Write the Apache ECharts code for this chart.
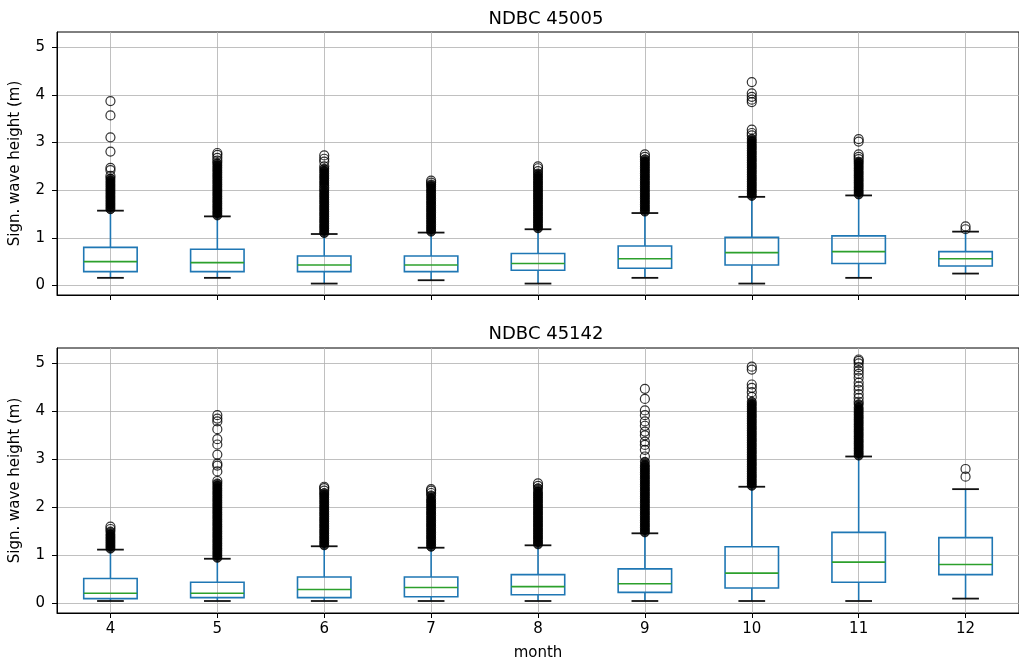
<!DOCTYPE html>
<html>
<head>
<meta charset="utf-8">
<script src="https://cdn.jsdelivr.net/npm/echarts@6/dist/echarts.min.js"></script>
<style>
  html, body { margin: 0; padding: 0; background: #fff; }
  #chart { width: 1019px; height: 665px; }
</style>
</head>
<body>
<div id="chart"></div>
<script>
const months = ['4', '5', '6', '7', '8', '9', '10', '11', '12']
const yTicks = [0, 1, 2, 3, 4, 5]

// [lower whisker, q1, median, q3, upper whisker] per month
const box45005 = [
  [0.16, 0.29, 0.50, 0.80, 1.57],
  [0.16, 0.29, 0.48, 0.76, 1.45],
  [0.04, 0.29, 0.43, 0.62, 1.08],
  [0.11, 0.29, 0.43, 0.62, 1.11],
  [0.04, 0.32, 0.46, 0.67, 1.18],
  [0.16, 0.36, 0.56, 0.83, 1.52],
  [0.04, 0.43, 0.69, 1.01, 1.86],
  [0.16, 0.46, 0.71, 1.04, 1.89],
  [0.25, 0.41, 0.56, 0.71, 1.13]
]
const box45142 = [
  [0.05, 0.10, 0.21, 0.52, 1.12],
  [0.05, 0.12, 0.21, 0.44, 0.93],
  [0.05, 0.12, 0.29, 0.55, 1.19],
  [0.05, 0.14, 0.33, 0.55, 1.16],
  [0.05, 0.18, 0.35, 0.60, 1.21],
  [0.05, 0.23, 0.41, 0.72, 1.46],
  [0.05, 0.32, 0.63, 1.18, 2.43],
  [0.05, 0.44, 0.86, 1.48, 3.06],
  [0.10, 0.60, 0.81, 1.37, 2.38]
]

// outliers packed so tightly they merge into a black column
const dense45005 = [
  [1.60, 1.65, 1.70, 1.75, 1.80, 1.85, 1.90, 1.95, 2.00, 2.05, 2.10, 2.15, 2.20, 2.25],
  [1.47, 1.52, 1.57, 1.62, 1.67, 1.72, 1.77, 1.82, 1.87, 1.92, 1.97, 2.02, 2.07, 2.12, 2.17, 2.22, 2.27, 2.32, 2.37, 2.42, 2.47, 2.52, 2.57],
  [1.10, 1.15, 1.20, 1.25, 1.30, 1.35, 1.40, 1.45, 1.50, 1.55, 1.60, 1.65, 1.70, 1.75, 1.80, 1.85, 1.90, 1.95, 2.00, 2.10, 2.15, 2.20, 2.25, 2.30, 2.35, 2.40, 2.45],
  [1.13, 1.18, 1.23, 1.28, 1.33, 1.38, 1.43, 1.48, 1.53, 1.58, 1.63, 1.68, 1.73, 1.78, 1.83, 1.88, 1.93, 1.98, 2.03, 2.08, 2.12],
  [1.20, 1.25, 1.30, 1.35, 1.40, 1.45, 1.50, 1.55, 1.60, 1.65, 1.70, 1.75, 1.80, 1.85, 1.90, 1.95, 2.00, 2.05, 2.10, 2.15, 2.20, 2.25, 2.30, 2.35],
  [1.55, 1.60, 1.65, 1.70, 1.75, 1.80, 1.85, 1.90, 1.95, 2.00, 2.05, 2.10, 2.15, 2.20, 2.25, 2.30, 2.35, 2.40, 2.45, 2.50, 2.55, 2.60, 2.65],
  [1.88, 1.93, 1.98, 2.03, 2.08, 2.13, 2.18, 2.23, 2.28, 2.33, 2.38, 2.43, 2.48, 2.53, 2.58, 2.63, 2.68, 2.73, 2.78, 2.83, 2.88, 2.93, 2.98, 3.03, 3.08],
  [1.91, 1.96, 2.01, 2.06, 2.11, 2.16, 2.21, 2.26, 2.31, 2.36, 2.41, 2.46, 2.51, 2.56, 2.60],
  []
]
const sparse45005 = [
  [2.30, 2.42, 2.47, 2.81, 3.11, 3.57, 3.87],
  [2.62, 2.68, 2.74, 2.78],
  [2.05, 2.50, 2.60, 2.66, 2.73],
  [2.16, 2.20],
  [2.40, 2.46, 2.50],
  [2.70, 2.75],
  [3.15, 3.20, 3.27, 3.85, 3.90, 3.96, 4.03, 4.27],
  [2.65, 2.70, 2.75, 3.02, 3.07],
  [1.18, 1.24]
]

const dense45142 = [
  [1.14, 1.19, 1.24, 1.29, 1.34, 1.39, 1.44, 1.50],
  [0.95, 1.00, 1.05, 1.10, 1.15, 1.20, 1.25, 1.30, 1.35, 1.40, 1.45, 1.50, 1.55, 1.60, 1.65, 1.70, 1.75, 1.80, 1.85, 1.90, 1.95, 2.00, 2.05, 2.10, 2.15, 2.20, 2.25, 2.30, 2.35, 2.40, 2.45, 2.50],
  [1.21, 1.26, 1.31, 1.36, 1.41, 1.46, 1.51, 1.56, 1.61, 1.66, 1.71, 1.76, 1.81, 1.86, 1.91, 1.96, 2.01, 2.06, 2.11, 2.16, 2.21, 2.26, 2.30],
  [1.18, 1.23, 1.28, 1.33, 1.38, 1.43, 1.48, 1.53, 1.58, 1.63, 1.68, 1.73, 1.78, 1.83, 1.88, 1.93, 1.98, 2.03, 2.08, 2.13, 2.18, 2.25],
  [1.23, 1.28, 1.33, 1.38, 1.43, 1.48, 1.53, 1.58, 1.63, 1.68, 1.73, 1.78, 1.83, 1.88, 1.93, 1.98, 2.03, 2.08, 2.13, 2.18, 2.23, 2.28, 2.33, 2.40],
  [1.48, 1.53, 1.58, 1.63, 1.68, 1.73, 1.78, 1.83, 1.88, 1.93, 1.98, 2.03, 2.08, 2.13, 2.18, 2.23, 2.28, 2.33, 2.38, 2.43, 2.48, 2.53, 2.58, 2.63, 2.68, 2.73, 2.78, 2.83, 2.88, 2.95],
  [2.45, 2.50, 2.55, 2.60, 2.65, 2.70, 2.75, 2.80, 2.85, 2.90, 2.95, 3.00, 3.05, 3.10, 3.15, 3.20, 3.25, 3.30, 3.35, 3.40, 3.45, 3.50, 3.55, 3.60, 3.65, 3.70, 3.75, 3.80, 3.85, 3.90, 3.95, 4.00, 4.05, 4.10, 4.15, 4.20],
  [3.08, 3.13, 3.18, 3.23, 3.28, 3.33, 3.38, 3.43, 3.48, 3.53, 3.58, 3.63, 3.68, 3.73, 3.78, 3.83, 3.88, 3.93, 3.98, 4.03, 4.08, 4.15],
  []
]
const sparse45142 = [
  [1.55, 1.60],
  [2.55, 2.75, 2.87, 2.91, 3.10, 3.31, 3.42, 3.63, 3.79, 3.85, 3.92],
  [2.35, 2.40, 2.43],
  [2.30, 2.35, 2.38],
  [2.45, 2.50],
  [3.06, 3.20, 3.30, 3.37, 3.50, 3.58, 3.70, 3.79, 3.92, 4.02, 4.26, 4.47],
  [4.30, 4.40, 4.49, 4.56, 4.87, 4.93],
  [4.20, 4.28, 4.36, 4.45, 4.52, 4.60, 4.70, 4.78, 4.85, 4.92, 5.00, 5.05, 5.08],
  [2.64, 2.80]
]

const font = 'DejaVu Sans'
const chart = echarts.init(document.getElementById('chart'))

function boxRows(rows) {
  return rows.map((r, i) => [i + 1].concat(r))
}
function points(lists) {
  const out = []
  lists.forEach((vals, i) => vals.forEach(v => out.push([i + 1, v])))
  return out
}

function renderBox(params, api) {
  const x = api.value(0)
  const lo = api.coord([x, api.value(1)])
  const q1 = api.coord([x, api.value(2)])
  const md = api.coord([x, api.value(3)])
  const q3 = api.coord([x, api.value(4)])
  const hi = api.coord([x, api.value(5)])
  const bw = api.size([0.5, 0])[0]
  const cw = bw / 2
  const blue = { stroke: '#1f77b4', lineWidth: 1.6, fill: 'none' }
  const black = { stroke: '#111', lineWidth: 1.8 }
  return {
    type: 'group',
    children: [
      { type: 'line', shape: { x1: q1[0], y1: q1[1], x2: lo[0], y2: lo[1] }, style: blue },
      { type: 'line', shape: { x1: q3[0], y1: q3[1], x2: hi[0], y2: hi[1] }, style: blue },
      { type: 'line', shape: { x1: lo[0] - cw / 2, y1: lo[1], x2: lo[0] + cw / 2, y2: lo[1] }, style: black },
      { type: 'line', shape: { x1: hi[0] - cw / 2, y1: hi[1], x2: hi[0] + cw / 2, y2: hi[1] }, style: black },
      { type: 'rect', shape: { x: q3[0] - bw / 2, y: q3[1], width: bw, height: q1[1] - q3[1] }, style: blue },
      { type: 'line', shape: { x1: md[0] - bw / 2, y1: md[1], x2: md[0] + bw / 2, y2: md[1] }, style: { stroke: '#2ca02c', lineWidth: 1.6 } }
    ]
  }
}

function xAxisFor(idx, withLabels) {
  return {
    type: 'value',
    gridIndex: idx,
    min: 0.5,
    max: 9.5,
    axisLine: { show: true, onZero: false, lineStyle: { color: '#000', width: 1 } },
    axisTick: { show: true, length: 5, customValues: [1, 2, 3, 4, 5, 6, 7, 8, 9], lineStyle: { color: '#000' } },
    axisLabel: {
      show: withLabels,
      customValues: [1, 2, 3, 4, 5, 6, 7, 8, 9],
      formatter: v => months[v - 1],
      color: '#000', fontFamily: font, fontSize: 15, margin: 9
    },
    splitLine: { show: true, lineStyle: { color: '#b0b0b0', width: 0.8 } },
    name: withLabels ? 'month' : '',
    nameLocation: 'middle',
    nameGap: 33,
    nameTextStyle: { color: '#000', fontFamily: font, fontSize: 15 }
  }
}

function yAxisFor(idx) {
  return {
    type: 'value',
    gridIndex: idx,
    min: -0.2,
    max: 5.32,
    axisLine: { show: true, onZero: false, lineStyle: { color: '#000', width: 1 } },
    axisTick: { show: true, length: 5, customValues: yTicks, lineStyle: { color: '#000' } },
    axisLabel: { customValues: yTicks, color: '#000', fontFamily: font, fontSize: 15, margin: 12 },
    splitLine: { show: true, lineStyle: { color: '#b0b0b0', width: 0.8 } },
    name: 'Sign. wave height (m)',
    nameLocation: 'middle',
    nameGap: 34,
    nameTextStyle: { color: '#000', fontFamily: font, fontSize: 15 }
  }
}

function seriesFor(idx, boxes, dense, sparse) {
  return [
    {
      type: 'custom',
      xAxisIndex: idx,
      yAxisIndex: idx,
      renderItem: renderBox,
      encode: { x: 0, y: [1, 2, 3, 4, 5] },
      data: boxRows(boxes),
      z: 2
    },
    {
      type: 'scatter',
      xAxisIndex: idx,
      yAxisIndex: idx,
      symbol: 'circle',
      symbolSize: 9,
      itemStyle: { color: '#000', borderColor: '#000', borderWidth: 1 },
      data: points(dense),
      z: 3
    },
    {
      type: 'scatter',
      xAxisIndex: idx,
      yAxisIndex: idx,
      symbol: 'circle',
      symbolSize: 9,
      itemStyle: { color: 'rgba(0,0,0,0)', borderColor: '#000', borderWidth: 1.2 },
      data: points(sparse),
      z: 3
    }
  ]
}

chart.setOption({
  animation: false,
  backgroundColor: '#fff',
  title: [
    { text: 'NDBC 45005', left: 541, top: 5, textAlign: 'center', textStyle: { color: '#000', fontFamily: font, fontSize: 18, fontWeight: 'normal' } },
    { text: 'NDBC 45142', left: 541, top: 320, textAlign: 'center', textStyle: { color: '#000', fontFamily: font, fontSize: 18, fontWeight: 'normal' } }
  ],
  grid: [
    { left: 56, top: 32, width: 972, height: 263, show: true, borderColor: '#000', borderWidth: 1, backgroundColor: 'transparent' },
    { left: 56, top: 348, width: 972, height: 265, show: true, borderColor: '#000', borderWidth: 1, backgroundColor: 'transparent' }
  ],
  xAxis: [xAxisFor(0, false), xAxisFor(1, true)],
  yAxis: [yAxisFor(0), yAxisFor(1)],
  series: seriesFor(0, box45005, dense45005, sparse45005).concat(seriesFor(1, box45142, dense45142, sparse45142))
})
</script>
</body>
</html>
